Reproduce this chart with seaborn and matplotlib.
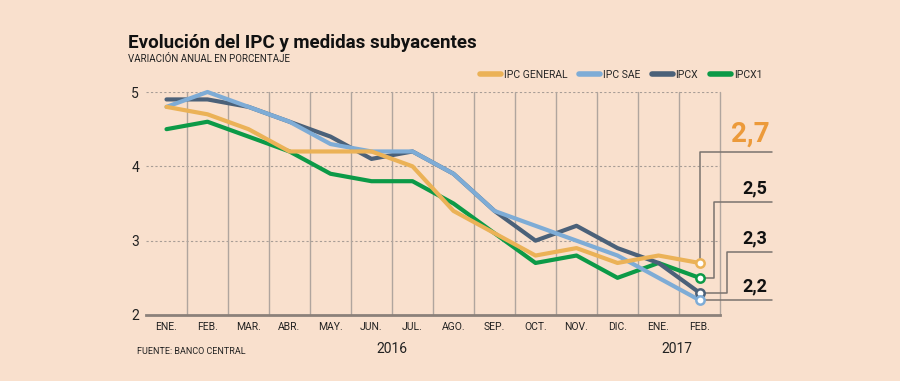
import numpy as np
import pandas as pd
import matplotlib
matplotlib.use("Agg")
import matplotlib.pyplot as plt
import seaborn as sns

meses = ["ENE.", "FEB.", "MAR.", "ABR.", "MAY.", "JUN.", "JUL.", "AGO.",
         "SEP.", "OCT.", "NOV.", "DIC.", "ENE.", "FEB."]
ipc_general = [4.8, 4.7, 4.5, 4.2, 4.2, 4.2, 4.0, 3.4, 3.1, 2.8, 2.9, 2.7, 2.8, 2.7]
ipc_sae = [4.8, 5.0, 4.8, 4.6, 4.3, 4.2, 4.2, 3.9, 3.4, 3.2, 3.0, 2.8, 2.5, 2.2]
ipcx = [4.9, 4.9, 4.8, 4.6, 4.4, 4.1, 4.2, 3.9, 3.4, 3.0, 3.2, 2.9, 2.7, 2.3]
ipcx1 = [4.5, 4.6, 4.4, 4.2, 3.9, 3.8, 3.8, 3.5, 3.1, 2.7, 2.8, 2.5, 2.7, 2.5]

series = {"IPC GENERAL": ipc_general, "IPC SAE": ipc_sae, "IPCX": ipcx, "IPCX1": ipcx1}
colores = {"IPC GENERAL": "#ebb257", "IPC SAE": "#7eacd6", "IPCX": "#4b6179", "IPCX1": "#0c9a47"}
# drawing order (bottom -> top)
orden = ["IPCX1", "IPCX", "IPC SAE", "IPC GENERAL"]
etiquetas = {"IPC GENERAL": "2,7", "IPCX1": "2,5", "IPCX": "2,3", "IPC SAE": "2,2"}

rows = []
for nombre, vals in series.items():
    for i, v in enumerate(vals):
        rows.append({"idx": i, "valor": v, "serie": nombre})
df = pd.DataFrame(rows)

bg = "#f9e0cd"
sns.set_style("white")
plt.rcParams["font.family"] = ["Roboto", "DejaVu Sans"]

fig = plt.figure(figsize=(9, 3.81), dpi=100, facecolor=bg)
ax = fig.add_axes([146 / 900, 66 / 381, 574 / 900, 223 / 381])
ax.set_facecolor(bg)

for z, nombre in enumerate(orden):
    sub = df[df["serie"] == nombre]
    sns.lineplot(data=sub, x="idx", y="valor", color=colores[nombre], lw=3,
                 ax=ax, zorder=3 + z, clip_on=False, legend=False)
    last = sub.iloc[-1]
    ax.plot(last["idx"], last["valor"], "o", ms=6, mfc="white",
            mec=colores[nombre], mew=1.8, zorder=10 + z, clip_on=False)

ax.set_xlim(-0.5, 13.5)
ax.set_ylim(2, 5)
ax.set_xticks(range(len(meses)))
ax.set_xticklabels(meses, fontsize=7.5, color="#222222")
ax.set_yticks([2, 3, 4, 5])
ax.set_yticklabels(["2", "3", "4", "5"], fontsize=10, color="#222222")
ax.tick_params(axis="both", length=0, pad=5)
ax.set_xlabel("")
ax.set_ylabel("")

for s in ["top", "left", "right"]:
    ax.spines[s].set_visible(False)
ax.spines["bottom"].set_color("#8c817a")
ax.spines["bottom"].set_linewidth(2)

for y in [3, 4, 5]:
    ax.axhline(y, color="#a89d96", lw=0.8, ls=(0, (2, 2)), zorder=1)
for x in np.arange(0.5, 14, 1):
    ax.axvline(x, color="#b0a59e", lw=1, zorder=1, clip_on=False)

# leader lines to value labels (in axes-data space, extending right of plot)
gris = "#7a736e"
x_end = 13 + (772 - 700) / 41
y_lbl = {"IPC GENERAL": 2 + (315 - 152) / 74.3, "IPCX1": 2 + (315 - 202) / 74.3,
         "IPCX": 2 + (315 - 252) / 74.3, "IPC SAE": 2.2}
x_turn = {"IPC GENERAL": 13.0, "IPCX1": 13 + 14 / 41, "IPCX": 13 + 27 / 41, "IPC SAE": None}
for nombre in ["IPC GENERAL", "IPCX1", "IPCX", "IPC SAE"]:
    v = series[nombre][-1]
    yl = y_lbl[nombre]
    xt = x_turn[nombre]
    if xt is None:
        xs, ys = [13, x_end], [v, v]
    elif xt == 13.0:
        xs, ys = [13, 13, x_end], [v + 0.05, yl, yl]
    else:
        xs, ys = [13.08, xt, xt, x_end], [v, v, yl, yl]
    ax.plot(xs, ys, color=gris, lw=1.1, zorder=2, clip_on=False)
    if nombre == "IPC GENERAL":
        ax.text(x_end - 0.05, yl + 0.06, etiquetas[nombre], ha="right", va="bottom",
                fontsize=20, fontweight="bold", color="#ec9a3a")
    else:
        ax.text(x_end - 0.1, yl + 0.06, etiquetas[nombre], ha="right", va="bottom",
                fontsize=13, fontweight="bold", color="#111111")

fig.text(128 / 900, 1 - 43 / 381, "Evolución del IPC y medidas subyacentes",
         fontsize=13.5, fontweight="bold", color="#111111", va="center")
fig.text(128 / 900, 1 - 59 / 381, "VARIACIÓN ANUAL EN PORCENTAJE",
         fontsize=7, color="#222222", va="center")
fig.text(137 / 900, 1 - 351 / 381, "FUENTE: BANCO CENTRAL",
         fontsize=6.5, color="#222222", va="center")
fig.text(392 / 900, 1 - 349 / 381, "2016", fontsize=10, color="#222222",
         ha="center", va="center")
fig.text(677 / 900, 1 - 349 / 381, "2017", fontsize=10, color="#222222",
         ha="center", va="center")

handles = [plt.Line2D([], [], color=colores[n], lw=4, solid_capstyle="round") for n in series]
fig.legend(handles, list(series.keys()), loc="center", ncol=4,
           bbox_to_anchor=(621 / 900, 1 - 75 / 381), frameon=False,
           prop={"size": 7.5}, handlelength=2.0, handletextpad=0.3, columnspacing=1.1)

fig.savefig("out.png", dpi=100, facecolor=bg)
